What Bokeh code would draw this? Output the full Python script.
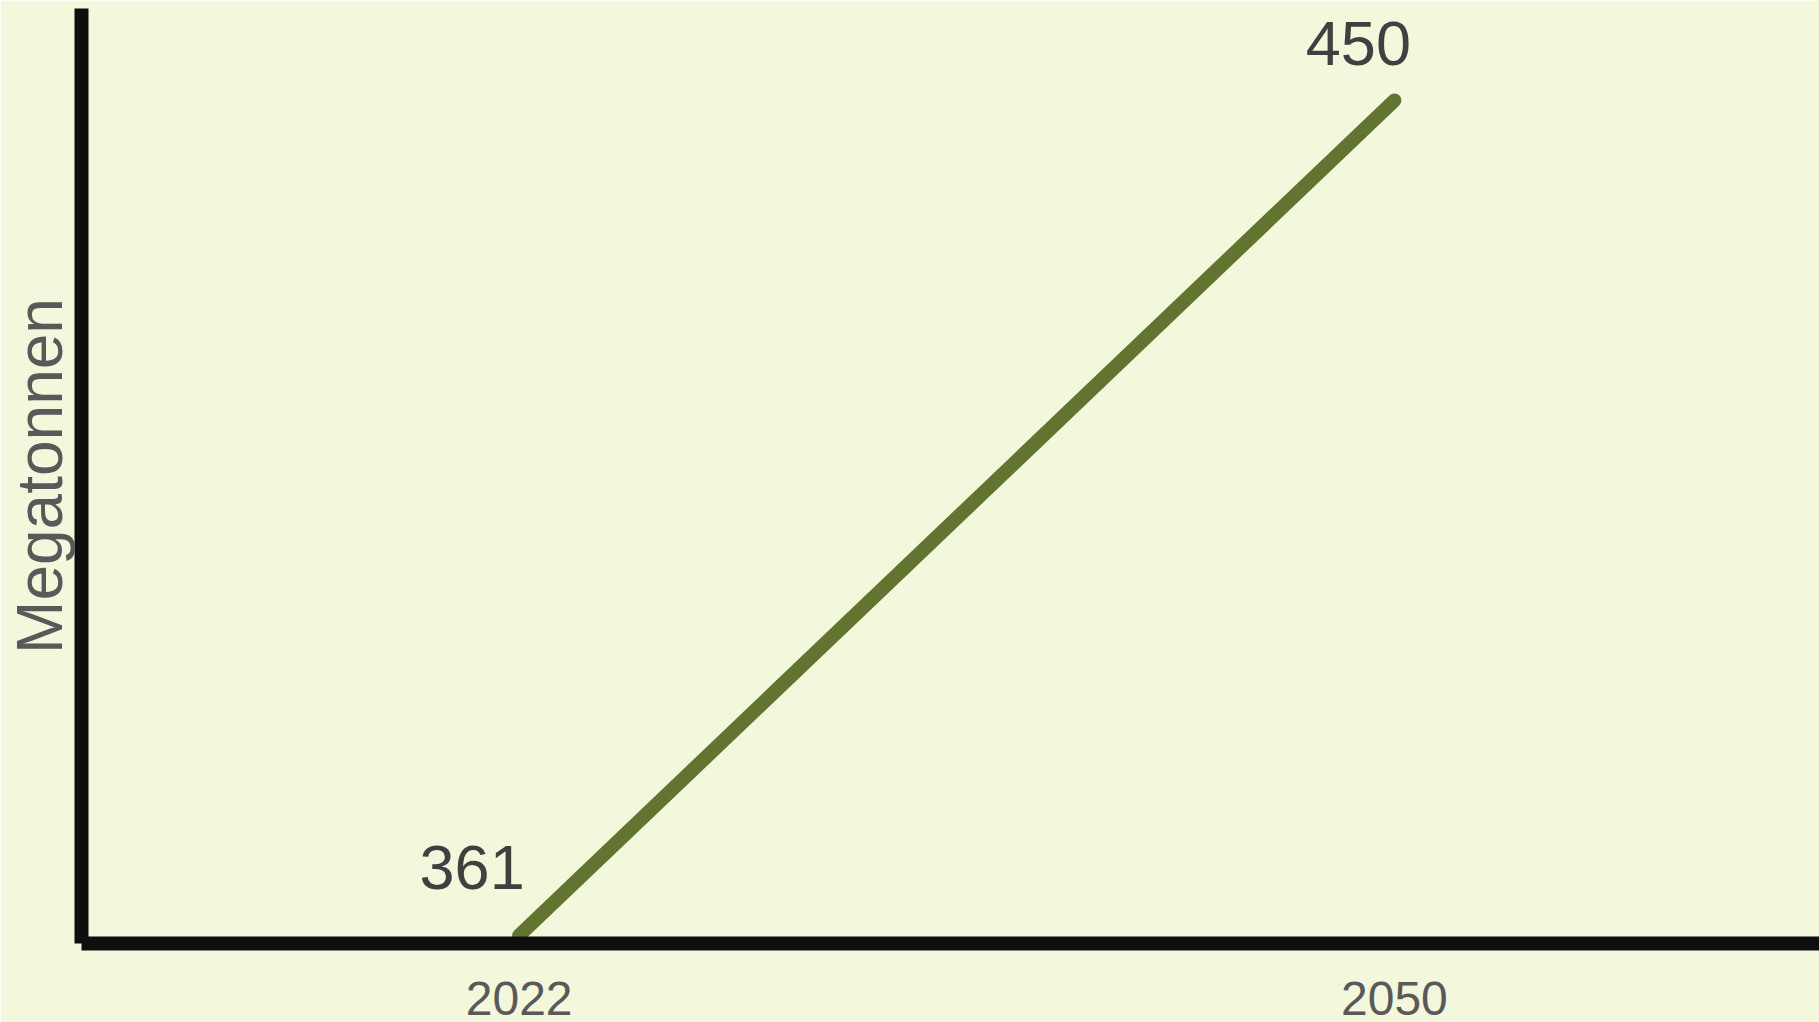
from bokeh.plotting import figure
from bokeh.models import ColumnDataSource, FixedTicker, Range1d
from bokeh.core.properties import value
from bokeh.embed import file_html
from bokeh.resources import INLINE

years = [2022, 2050]
megatonnen = [361, 450]
value_labels = ["361", "450"]
tick_labels = {2022: "2022", 2050: "2050"}

BG = "#f3f7dc"
FONT = "Liberation Sans"

p = figure(width=1819, height=1022, output_backend="svg", toolbar_location=None,
           x_range=Range1d(2008.0, 2063.6), y_range=Range1d(360.15, 459.8),
           min_border_left=81, min_border_right=0, min_border_top=8, min_border_bottom=79)
p.background_fill_color = BG
p.border_fill_color = BG
p.outline_line_color = None
p.xgrid.grid_line_color = None
p.ygrid.grid_line_color = None

src = ColumnDataSource(dict(x=years, y=megatonnen, lab=value_labels,
                            dx=[-47, -36], dy=[-68, -57]))
p.line("x", "y", source=src, line_color="#617530", line_width=14, line_cap="round")
p.text("x", "y", text="lab", source=src, x_offset="dx", y_offset="dy",
       text_align="center", text_baseline="alphabetic",
       text_font=value(FONT), text_font_size="63px", text_color="#404040")

xa = p.xaxis[0]
xa.ticker = FixedTicker(ticks=years)
xa.major_label_overrides = tick_labels
xa.axis_line_width = 14
xa.axis_line_color = "#0e0e0e"
xa.major_tick_line_color = None
xa.minor_tick_line_color = None
xa.major_tick_out = 0
xa.major_tick_in = 0
xa.major_label_standoff = 38
xa.major_label_text_font = FONT
xa.major_label_text_font_size = "48px"
xa.major_label_text_color = "#595959"

ya = p.yaxis[0]
ya.ticker = FixedTicker(ticks=[])
ya.axis_line_width = 14
ya.axis_line_color = "#0e0e0e"
ya.major_tick_line_color = None
ya.minor_tick_line_color = None
ya.major_tick_out = 0
ya.major_tick_in = 0
ya.major_label_standoff = 0
ya.axis_label = "Megatonnen"
ya.axis_label_standoff = 6
ya.axis_label_text_font = FONT
ya.axis_label_text_font_size = "64px"
ya.axis_label_text_font_style = "normal"
ya.axis_label_text_color = "#595959"

open("out.html", "w").write(file_html(p, INLINE))
